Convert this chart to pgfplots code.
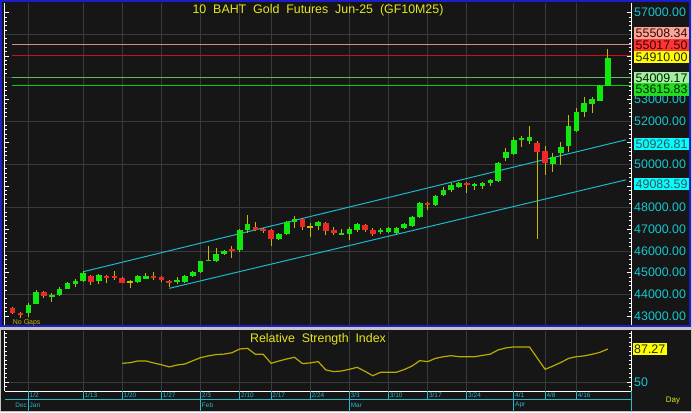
\documentclass[border=0pt]{standalone}
\usepackage{fontspec}
\setmainfont{Liberation Sans}
\usepackage{pgfplots}
\usepackage{pgfplotstable}
\pgfplotsset{compat=1.18}

\definecolor{outer}{HTML}{C4C4C4}
\definecolor{bg}{HTML}{161616}
\definecolor{gridc}{HTML}{3A3A3A}
\definecolor{upc}{HTML}{10E810}
\definecolor{dnc}{HTML}{EC2828}
\definecolor{wick}{HTML}{C8B800}
\definecolor{chan}{HTML}{1EB8CA}
\definecolor{tickc}{HTML}{14C8D2}
\definecolor{ttl}{HTML}{E6E61E}
\definecolor{frameblue}{HTML}{1C1CC8}
\definecolor{rsic}{HTML}{B8AC00}
\definecolor{datec}{HTML}{2CB8C8}
\definecolor{lvpink}{HTML}{D88C8C}
\definecolor{lvred}{HTML}{D01010}
\definecolor{lvlgreen}{HTML}{5CC05C}
\definecolor{lvgreen}{HTML}{00D400}
\definecolor{bxsalmon}{HTML}{F4A898}
\definecolor{bxred}{HTML}{FF3434}
\definecolor{bxyellow}{HTML}{FFFF00}
\definecolor{bxlgreen}{HTML}{A4F0A0}
\definecolor{bxgreen}{HTML}{22DD22}
\definecolor{bxcyan}{HTML}{00FFFF}

\newcommand\fs[1]{\fontsize{#1}{#1}\selectfont}

% candles: index, open, high, low, close
\pgfplotstableread{
i o h l c
2 43138 43600 42954 43507
3 43553 44200 43553 44107
5 43876 44060 43645 43968
6 43968 44340 43922 44245
7 44245 44570 44245 44522
8 44476 44706 44338 44614
9 44614 45076 44568 44983
11 44614 44937 44476 44891
16 44568 44870 44540 44845
17 44706 44983 44706 44845
21 44568 44799 44476 44660
22 44568 44870 44540 44845
23 44845 45060 44820 45030
24 45030 45560 45000 45537
25 45560 46230 45537 45600
26 45537 46137 45490 45860
27 45860 46050 45800 46000
29 46045 47000 45950 46968
30 46968 47660 46830 47245
34 46553 46830 46500 46783
35 46783 47380 46760 47337
36 47337 47614 47060 47476
39 47153 47380 46968 47337
42 46783 47015 46737 46830
43 46783 47107 46506 47015
44 46968 47291 46876 47245
47 46876 47060 46783 46968
48 46876 47107 46830 47060
49 46830 47100 46800 47060
50 47060 47291 47015 47245
51 47153 47600 47120 47568
52 47568 48240 47540 48214
54 48122 48583 48076 48537
55 48583 48952 48537 48814
56 48814 49137 48721 49045
57 48952 49180 48906 49137
59 49000 49137 48814 49091
60 49000 49183 48860 49137
61 49137 49320 49000 49275
62 49229 50100 49180 50060
63 50291 50752 50152 50568
64 50475 51260 50430 51121
65 51121 51306 50798 51214
66 51075 51767 50937 51260
69 50014 50522 49645 50337
70 50522 51029 49968 50798
71 50844 52275 50568 51767
72 51537 52598 51490 52414
73 52414 53106 52183 52829
74 52783 53106 52368 53014
75 52921 53660 52900 53614
76 53614 55320 53614 54910
}\upcandles

\pgfplotstableread{
i o h l c
0 43368 43420 43100 43138
1 43138 43185 42908 43046
4 44107 44150 43830 43922
10 44845 44890 44430 44568
12 44845 44890 44522 44799
13 44845 45076 44660 44753
14 44753 44800 44500 44522
18 44845 45030 44660 44753
19 44799 44845 44568 44660
20 44614 44660 44338 44568
28 46091 46230 45676 46000
31 47107 47337 46900 46968
32 47015 47060 46830 46968
33 46968 47000 46230 46553
37 47476 47520 46968 47107
40 47291 47337 46737 46922
41 46968 47107 46737 46830
45 47199 47245 46876 46968
46 46968 47060 46691 46783
53 48214 48260 47891 48168
58 49137 49183 48675 49091
67 50983 51075 46552 50568
68 50614 50844 49506 50060
}\downcandles

\pgfplotstableread{
i o h l c
15 44568 44660 44291 44568
38 47107 47291 46645 47107
}\dojicandles

\pgfplotstableread{
i r
14 71.1
15 71.8
16 73.8
17 73.8
18 71.5
19 69.5
20 67.0
21 69.2
22 70.3
23 74.0
24 77.5
25 79.5
26 81.0
27 81.5
28 83.0
29 87.3
30 88.0
31 81.3
32 81.3
33 71.1
34 73.7
35 76.0
36 77.9
37 70.8
38 71.5
39 73.1
40 63.6
41 61.7
42 62.4
43 64.3
44 66.6
45 62.0
46 57.1
47 61.0
48 61.0
49 61.0
50 64.0
51 68.0
52 74.1
53 73.0
54 76.7
55 78.5
56 79.7
57 78.6
58 78.6
59 78.6
60 80.0
61 81.5
62 86.2
63 88.5
64 89.6
65 89.6
66 89.6
67 77.0
68 64.3
69 68.0
70 72.0
71 76.7
72 78.6
73 79.5
74 81.3
75 83.5
76 87.27
}\rsi

\pgfplotsset{
  panel/.style={
    scale only axis, width=626pt,
    xmin=-0.98, xmax=78.97,
    axis line style={draw=none},
    xtick={2,9,14,19,24,29,33,38,43,48,53,58,64,68,72},
    xticklabels={}, xtick style={draw=none},
    xmajorgrids, grid style={gridc, line width=0.8pt},
    yticklabel pos=right, ytick pos=both,
    ytick style={white, line width=0.6pt},
    tick align=inside, major tick length=4pt, minor tick length=2.5pt,
    yticklabel style={text=tickc, font=\fs{12.4}, inner sep=0pt, xshift=3pt},
    clip mode=individual,
  },
  body/.style={draw=none, mark=none,
    error bars/.cd, y dir=both, y explicit, error mark=none,
    error bar style={draw=#1, line width=5.6pt}},
  wicks/.style={draw=none, mark=none,
    error bars/.cd, y dir=both, y explicit, error mark=none,
    error bar style={draw=wick, line width=1pt}},
}
\tikzset{
  lbl/.style={anchor=west, font=\fs{12.4}, inner xsep=1.5pt, inner ysep=0pt,
    minimum height=12.4pt},
  dlab/.style={anchor=west, inner sep=1.2pt, font=\fs{6.5}, text=datec},
}

\begin{document}
\begin{tikzpicture}
\useasboundingbox (0,0) rectangle (692pt,-412pt);
\fill[outer] (0,0) rectangle (692pt,-412pt);
\fill[bg] (1pt,-1pt) rectangle (691pt,-326pt);
\fill[bg] (1pt,-330pt) rectangle (691pt,-411pt);
\draw[frameblue, line width=2pt] (1pt,-1pt) rectangle (690pt,-326pt);

\begin{axis}[panel,
  at={(5pt,-325pt)}, anchor=south west, height=322pt,
  ymin=42584, ymax=57444,
  ytick={43000,44000,...,57000},
  yticklabels={43000.00,44000.00,45000.00,46000.00,47000.00,48000.00,,50000.00,,52000.00,53000.00,,,,57000.00},
  minor y tick num=4,
  extra y ticks={44000,46000,...,56000}, extra y tick labels={},
  extra y tick style={grid=major, major tick length=0pt},
]
\addplot[lvpink, line width=1pt] coordinates {(-0.1,55508.34) (78.97,55508.34)};
\addplot[lvred, line width=1pt] coordinates {(-0.1,55017.50) (78.97,55017.50)};
\addplot[lvlgreen, line width=1pt] coordinates {(-0.1,54009.17) (78.97,54009.17)};
\addplot[lvgreen, line width=1pt] coordinates {(-0.1,53615.83) (78.97,53615.83)};
\addplot[chan, line width=1pt] coordinates {(9,45043) (76,50926.81) (78.3,51128)};
\addplot[chan, line width=1pt] coordinates {(20,44277) (76,49083.59) (78.3,49281)};

\addplot[wicks] table[x=i, y expr={(\thisrow{h}+\thisrow{l})/2}, y error expr={(\thisrow{h}-\thisrow{l})/2}] {\upcandles};
\addplot[wicks] table[x=i, y expr={(\thisrow{h}+\thisrow{l})/2}, y error expr={(\thisrow{h}-\thisrow{l})/2}] {\downcandles};
\addplot[wicks] table[x=i, y expr={(\thisrow{h}+\thisrow{l})/2}, y error expr={(\thisrow{h}-\thisrow{l})/2}] {\dojicandles};
\addplot[body=upc] table[x=i, y expr={(\thisrow{o}+\thisrow{c})/2}, y error expr={abs(\thisrow{c}-\thisrow{o})/2}] {\upcandles};
\addplot[body=dnc] table[x=i, y expr={(\thisrow{o}+\thisrow{c})/2}, y error expr={abs(\thisrow{c}-\thisrow{o})/2}] {\downcandles};
\addplot[only marks, mark=-, mark size=2.8pt, wick, mark options={line width=1.2pt}] table[x=i, y=c] {\dojicandles};

\draw[white, line width=1pt] (rel axis cs:0,0) -- (rel axis cs:0,1);
\draw[white, line width=1pt] (rel axis cs:1,0) -- (rel axis cs:1,1);

\node[text=ttl, font=\fs{12.4}] at ([yshift=-7.5pt]rel axis cs:0.5,1)
  {10\ \ BAHT\ \ Gold\ \ Futures\ \ Jun-25\ \ (GF10M25)};
\node[anchor=west, inner sep=0pt, text=wick, font=\fs{7}] at ([yshift=2.5pt]axis cs:0,42584) {No\ Gaps};

\node[lbl, fill=bxsalmon, text=black!55!red!60!black] at ([xshift=3pt]axis cs:78.97,56060) {55508.34};
\node[lbl, fill=bxred, text=black!80!red] at ([xshift=3pt]axis cs:78.97,55483) {55017.50};
\node[lbl, fill=bxyellow, text=black!85] at ([xshift=3pt]axis cs:78.97,54952) {54910.00};
\node[lbl, fill=bxlgreen, text=black!70!green!40!black] at ([xshift=3pt]axis cs:78.97,53983) {54009.17};
\node[lbl, fill=bxgreen, text=black!85!green] at ([xshift=3pt]axis cs:78.97,53452) {53615.83};
\node[lbl, fill=bxcyan, text=black!75!cyan] at ([xshift=3pt]axis cs:78.97,50926.81) {50926.81};
\node[lbl, fill=bxcyan, text=black!75!cyan] at ([xshift=3pt]axis cs:78.97,49083.59) {49083.59};
\end{axis}

\begin{axis}[panel,
  at={(5pt,-391pt)}, anchor=south west, height=60pt,
  ymin=39.8, ymax=107.6,
  ytick={50}, yticklabels={50}, minor ytick={40,45,...,105},
  ymajorgrids,
]
\addplot[rsic, line width=1.2pt] table[x=i, y=r] {\rsi};

\draw[white, line width=1pt] (rel axis cs:0,0) -- (rel axis cs:0,1);
\draw[white, line width=1pt] (rel axis cs:1,0) -- (rel axis cs:1,1);
\draw[white, line width=1pt] (rel axis cs:0,0) -- (rel axis cs:1,0);

\node[text=ttl, font=\fs{12.4}] at ([yshift=-8.5pt]rel axis cs:0.5,1)
  {Relative\ \ Strength\ \ Index};
\node[lbl, fill=bxyellow, text=black!85] at ([xshift=1.5pt]axis cs:78.97,87.27) {87.27};

\pgfplotsinvokeforeach{2,9,14,19,24,29,33,38,43,48,53,58,64,68,72}{
  \draw[datec, line width=0.8pt] (axis cs:#1,39.8) -- ([yshift=-8.5pt]axis cs:#1,39.8);
}
\pgfplotsinvokeforeach{2,24,43,64}{
  \draw[datec, line width=0.8pt] ([yshift=-8.5pt]axis cs:#1,39.8) -- ([yshift=-21pt]axis cs:#1,39.8);
}
\draw[datec, line width=0.8pt] ([yshift=-8.5pt]rel axis cs:0,0) -- ([yshift=-8.5pt]rel axis cs:1,0);
\draw[datec, line width=0.8pt] (rel axis cs:1,0) -- ([yshift=-21pt]rel axis cs:1,0);

\node[dlab] at ([yshift=-4.5pt]axis cs:2,39.8) {1/2};
\node[dlab] at ([yshift=-4.5pt]axis cs:9,39.8) {1/13};
\node[dlab] at ([yshift=-4.5pt]axis cs:14,39.8) {1/20};
\node[dlab] at ([yshift=-4.5pt]axis cs:19,39.8) {1/27};
\node[dlab] at ([yshift=-4.5pt]axis cs:24,39.8) {2/3};
\node[dlab] at ([yshift=-4.5pt]axis cs:29,39.8) {2/10};
\node[dlab] at ([yshift=-4.5pt]axis cs:33,39.8) {2/17};
\node[dlab] at ([yshift=-4.5pt]axis cs:38,39.8) {2/24};
\node[dlab] at ([yshift=-4.5pt]axis cs:43,39.8) {3/3};
\node[dlab] at ([yshift=-4.5pt]axis cs:48,39.8) {3/10};
\node[dlab] at ([yshift=-4.5pt]axis cs:53,39.8) {3/17};
\node[dlab] at ([yshift=-4.5pt]axis cs:58,39.8) {3/24};
\node[dlab] at ([yshift=-4.5pt]axis cs:64,39.8) {4/1};
\node[dlab] at ([yshift=-4.5pt]axis cs:68,39.8) {4/8};
\node[dlab] at ([yshift=-4.5pt]axis cs:72,39.8) {4/16};
\node[dlab, anchor=east] at ([yshift=-14pt]axis cs:2,39.8) {Dec};
\node[dlab] at ([yshift=-14pt]axis cs:2,39.8) {Jan};
\node[dlab] at ([yshift=-14pt]axis cs:24,39.8) {Feb};
\node[dlab] at ([yshift=-14pt]axis cs:43,39.8) {Mar};
\node[dlab] at ([yshift=-14pt]axis cs:64,39.8) {Apr};
\end{axis}

\node[text=ttl, font=\fs{8}] at (673pt,-401pt) {Day};
\end{tikzpicture}
\end{document}
